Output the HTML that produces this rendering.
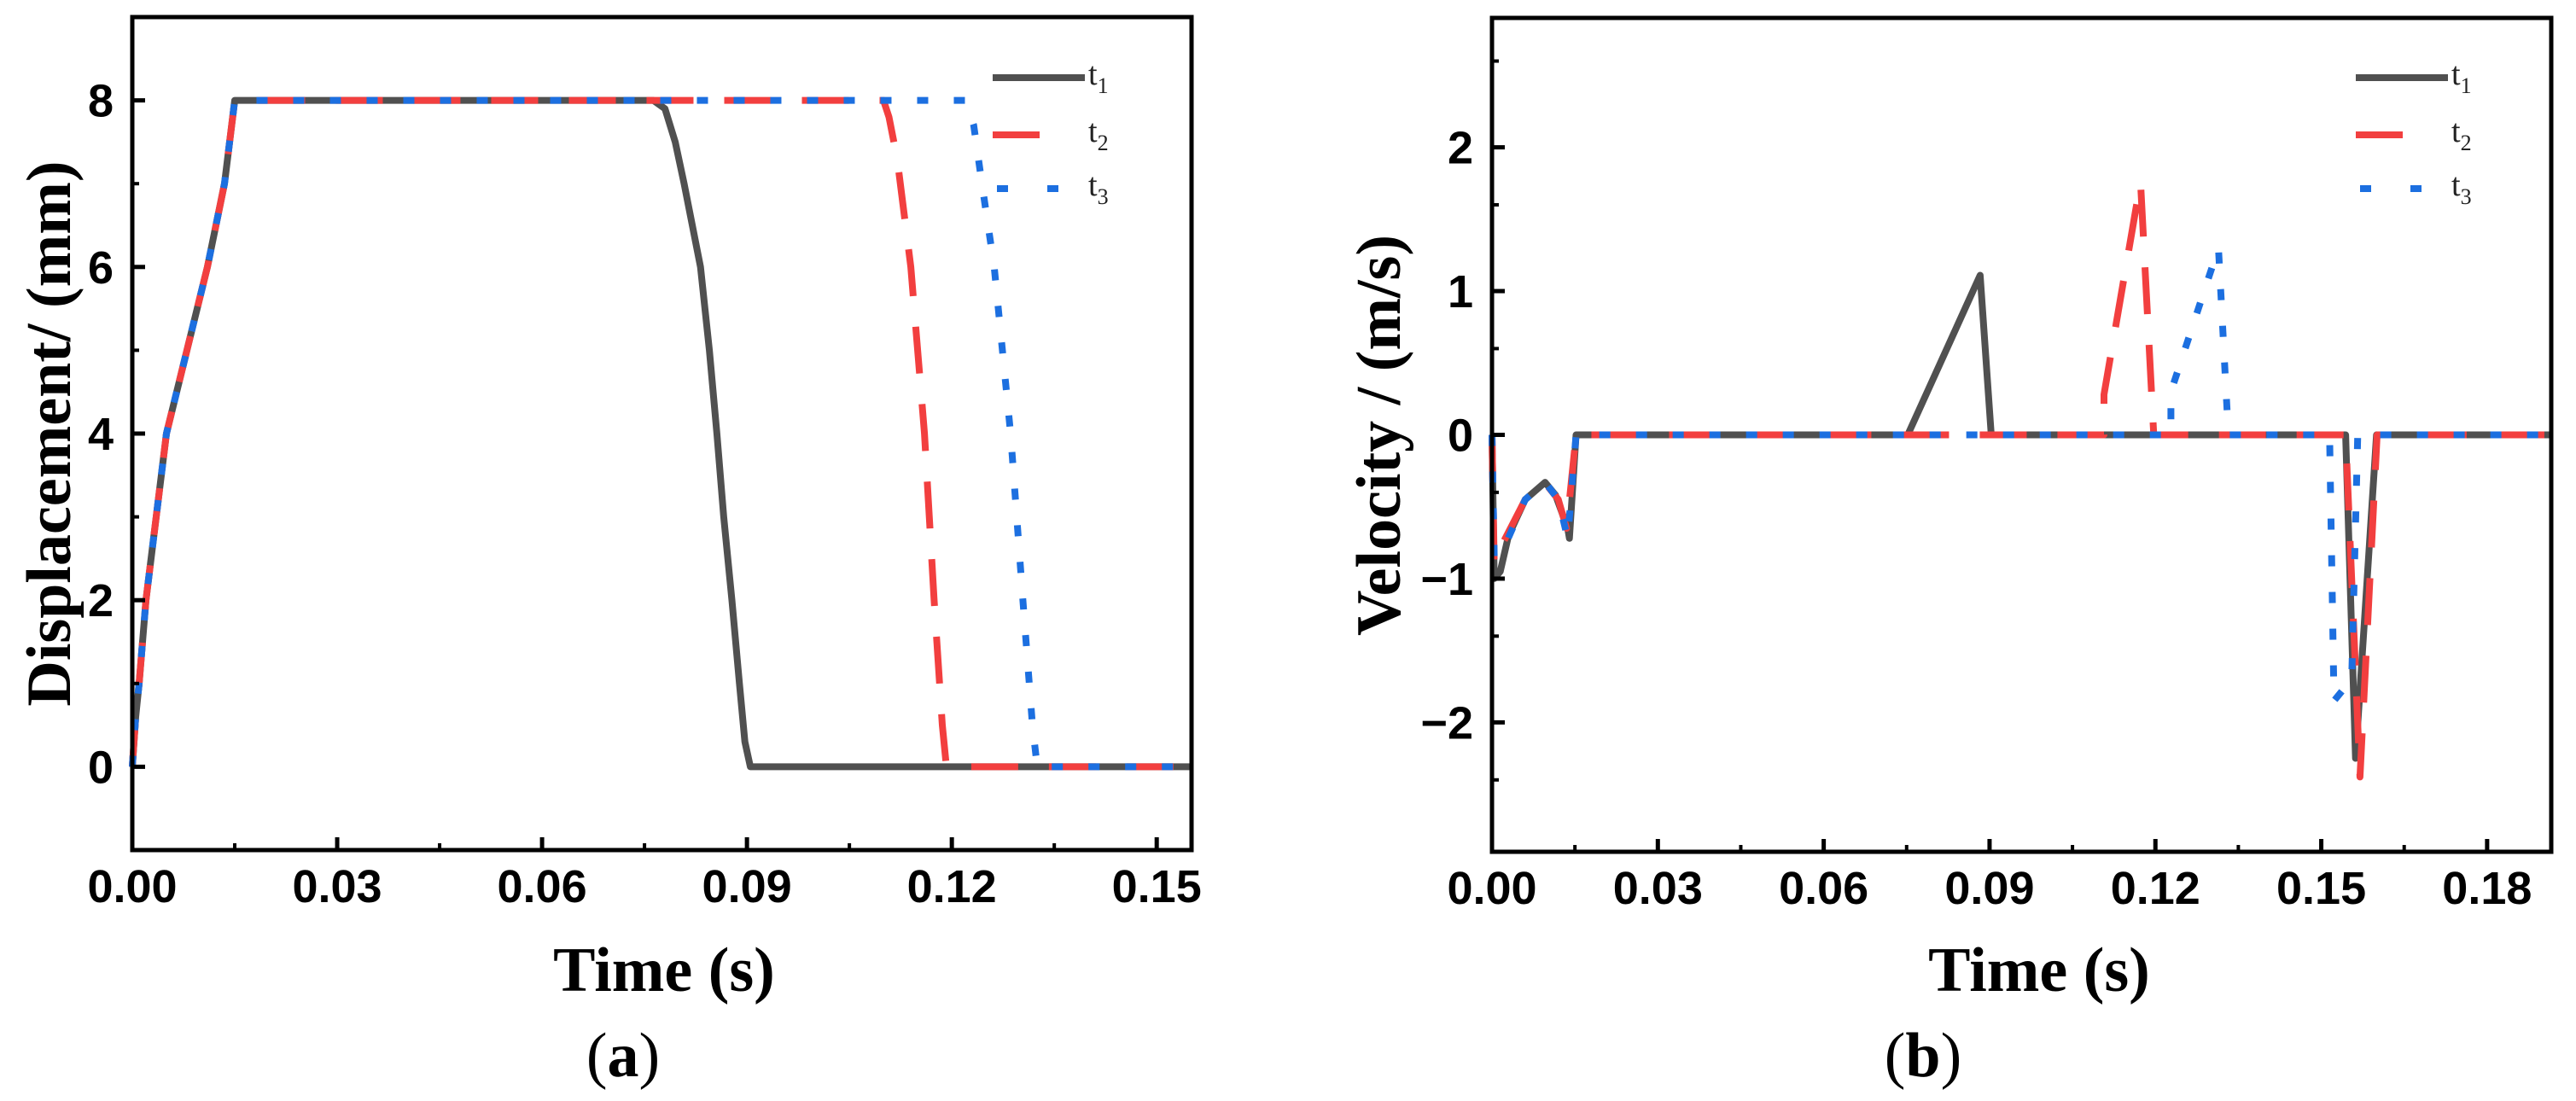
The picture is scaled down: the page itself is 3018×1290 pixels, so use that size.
<!DOCTYPE html>
<html><head><meta charset="utf-8"><style>
html,body{margin:0;padding:0;background:#fff;}
svg{display:block;}
.tick{font-family:"Liberation Sans",sans-serif;font-weight:bold;font-size:54px;fill:#000;}
.title{font-family:"Liberation Serif",serif;font-weight:bold;font-size:74px;fill:#000;}
.leg{font-family:"Liberation Serif",serif;font-size:38px;fill:#222;}
</style></head><body>
<svg id="fig" width="3018" height="1290" viewBox="0 0 3018 1290" xmlns="http://www.w3.org/2000/svg"></svg>
<script>
// ---- Panel (a) data: displacement (mm) ----
const aT1x = [0,0.0005,0.001,0.002,0.0035,0.005,0.008,0.011,0.0135,0.015,0.0763,0.078,0.0795,0.0808,0.0832,0.0845,0.0856,0.0866,0.0878,0.0889,0.0897,0.0905,0.155];
const aT1y = [0,0.6,1,2,3,4,5,6,7,8,8,7.9,7.5,7,6,5,4,3,2,1,0.3,0,0];
const aT2x = [0,0.0005,0.001,0.002,0.0035,0.005,0.008,0.011,0.0135,0.015,0.110,0.1108,0.112,0.114,0.116,0.1174,0.1186,0.1192,0.155];
const aT2y = [0,0.6,1,2,3,4,5,6,7,8,8,7.8,7.3,6,4,2,0.5,0,0];
const aT3x = [0,0.0005,0.001,0.002,0.0035,0.005,0.008,0.011,0.0135,0.015,0.122,0.1232,0.1244,0.1262,0.1286,0.1304,0.1318,0.1325,0.155];
const aT3y = [0,0.6,1,2,3,4,5,6,7,8,8,7.7,7,6,4,2,0.5,0,0];
const aXTicks = ["0.00","0.03","0.06","0.09","0.12","0.15"];
const aYTicks = ["0","2","4","6","8"];
// ---- Panel (b) data: velocity (m/s) ----
const bT1x = [0,0.0004,0.0015,0.003,0.006,0.0096,0.0115,0.0137,0.014,0.0152,0.0752,0.0883,0.0903,0.1544,0.1562,0.1600,0.1916];
const bT1y = [0,-1,-0.95,-0.7,-0.45,-0.33,-0.42,-0.65,-0.72,0,0,1.11,0,0,-2.25,0,0];
const bT2x = [0,0.0004,0.002,0.006,0.0095,0.012,0.0135,0.0152,0.1107,0.1107,0.1173,0.1197,0.1544,0.1570,0.1601,0.1916];
const bT2y = [0,-0.9,-0.75,-0.45,-0.33,-0.45,-0.65,0,0,0.28,1.76,0,0,-2.38,0,0];
const bT3x = [0,0.0004,0.002,0.006,0.0096,0.012,0.0137,0.0152,0.1228,0.1228,0.1314,0.1330,0.1333,0.1515,0.1523,0.1555,0.1566,0.1916];
const bT3y = [0,-0.85,-0.8,-0.45,-0.33,-0.45,-0.72,0,0,0.3,1.3,0.15,0,0,-1.85,-1.7,0,0];
const bXTicks = ["0.00","0.03","0.06","0.09","0.12","0.15","0.18"];
const bYTicks = ["\u22122","\u22121","0","1","2"];

const NS="http://www.w3.org/2000/svg";
const svg=document.getElementById('fig');
function mk(tag,attrs,parent){const e=document.createElementNS(NS,tag);for(const k in attrs)e.setAttribute(k,attrs[k]);(parent||svg).appendChild(e);return e;}

const styles=[
 {stroke:"#505050",dash:""},
 {stroke:"#f23f3f",dash:"55 36"},
 {stroke:"#1c6fe0",dash:"13 30"}
];

function panel(cfg){
  const g=mk('g',{});
  
  
  const X=v=>cfg.x0+(v-cfg.xmin)/(cfg.xmax-cfg.xmin)*(cfg.x1-cfg.x0);
  const Y=v=>cfg.y1-(v-cfg.ymin)/(cfg.ymax-cfg.ymin)*(cfg.y1-cfg.y0);
  cfg.series.forEach((s,i)=>{
    let d='';
    s.x.forEach((xv,j)=>{d+=(j?'L':'M')+X(xv).toFixed(1)+' '+Y(s.y[j]).toFixed(1);});
    const p=mk('path',{d:d,fill:'none',stroke:styles[i].stroke,'stroke-width':8,'stroke-dasharray':styles[i].dash,'stroke-linejoin':'round'},g);
    
    
  });
  const fr=mk('rect',{x:cfg.x0,y:cfg.y0,width:cfg.x1-cfg.x0,height:cfg.y1-cfg.y0,fill:'none',stroke:'#000','stroke-width':5},g);
  
  
  const xt=mk('g',{},g);
  
  
  cfg.xticks.forEach(lbl=>{
    const v=parseFloat(lbl),px=X(v);
    mk('line',{x1:px,y1:cfg.y1,x2:px,y2:cfg.y1-15,stroke:'#000','stroke-width':5},xt);
    const m=X(v+cfg.xstep/2);
    if(m<cfg.x1-3) mk('line',{x1:m,y1:cfg.y1,x2:m,y2:cfg.y1-8,stroke:'#000','stroke-width':4},xt);
    const t=mk('text',{x:px,y:cfg.y1+61,'text-anchor':'middle',class:'tick'},xt);
    t.textContent=lbl;
    
    
  });
  const yt=mk('g',{},g);
  
  
  cfg.yticks.forEach(lbl=>{
    const v=parseFloat(lbl.replace('\u2212','-')),py=Y(v);
    mk('line',{x1:cfg.x0,y1:py,x2:cfg.x0+15,y2:py,stroke:'#000','stroke-width':5},yt);
    const t=mk('text',{x:cfg.x0-22,y:py+19,'text-anchor':'end',class:'tick'},yt);
    t.textContent=lbl;
    
    
  });
  for(let v=cfg.ymin;v<=cfg.ymax+1e-9;v+=cfg.ystep/2){
    const r=Math.round(v/cfg.ystep*2);
    if(r%2!==0){const py=Y(v);if(py>cfg.y0+3&&py<cfg.y1-3)mk('line',{x1:cfg.x0,y1:py,x2:cfg.x0+8,y2:py,stroke:'#000','stroke-width':4},yt);}
  }
  const xtl=mk('text',{x:cfg.xtx,y:1161,'text-anchor':'middle',class:'title'},g);
  xtl.textContent='Time (s)';
  
  
  const ytl=mk('text',{x:0,y:0,'text-anchor':'middle',class:'title',transform:'translate('+cfg.ytx+','+cfg.yty+') rotate(-90)'},g);
  ytl.textContent=cfg.ytitle;
  
  
  const cap=mk('text',{x:cfg.capx,y:1261,'text-anchor':'middle',class:'title',style:'font-weight:normal'},g);
  cap.innerHTML='(<tspan font-weight="bold">'+cfg.cap+'</tspan>)';
  
  
  const lg=mk('g',{},g);
  
  
  const rows=[cfg.ly,cfg.ly+67,cfg.ly+130];
  const lens=[108,55,0];
  rows.forEach((ry,i)=>{
    const e=mk('g',{},lg);
    
    
    if(i===2){
      mk('line',{x1:cfg.lx+5,y1:ry,x2:cfg.lx+18,y2:ry,stroke:styles[2].stroke,'stroke-width':8},e);
      mk('line',{x1:cfg.lx+64,y1:ry,x2:cfg.lx+77,y2:ry,stroke:styles[2].stroke,'stroke-width':8},e);
    } else {
      mk('line',{x1:cfg.lx,y1:ry,x2:cfg.lx+lens[i],y2:ry,stroke:styles[i].stroke,'stroke-width':8},e);
    }
    const t=mk('text',{x:cfg.lx+112,y:ry+8,class:'leg'},e);
    t.innerHTML='t<tspan font-size="26" dy="10">'+(i+1)+'</tspan>';
  });
}

panel({name:'displacement-chart',x0:155,x1:1396,y0:20,y1:996,xmin:0,xmax:0.1551,ymin:-1,ymax:9,xstep:0.03,ystep:2,
  xticks:aXTicks,yticks:aYTicks,
  series:[{x:aT1x,y:aT1y},{x:aT2x,y:aT2y},{x:aT3x,y:aT3y}],
  xtx:778,ytx:82,yty:508,ytitle:'Displacement/ (mm)',capx:730,cap:'a',lx:1163,ly:91});
panel({name:'velocity-chart',x0:1748,x1:2989,y0:21,y1:998,xmin:0,xmax:0.1916,ymin:-2.9,ymax:2.9,xstep:0.03,ystep:1,
  xticks:bXTicks,yticks:bYTicks,
  series:[{x:bT1x,y:bT1y},{x:bT2x,y:bT2y},{x:bT3x,y:bT3y}],
  xtx:2389,ytx:1640,yty:510,ytitle:'Velocity / (m/s)',capx:2253,cap:'b',lx:2760,ly:91});
</script>
</body></html>
